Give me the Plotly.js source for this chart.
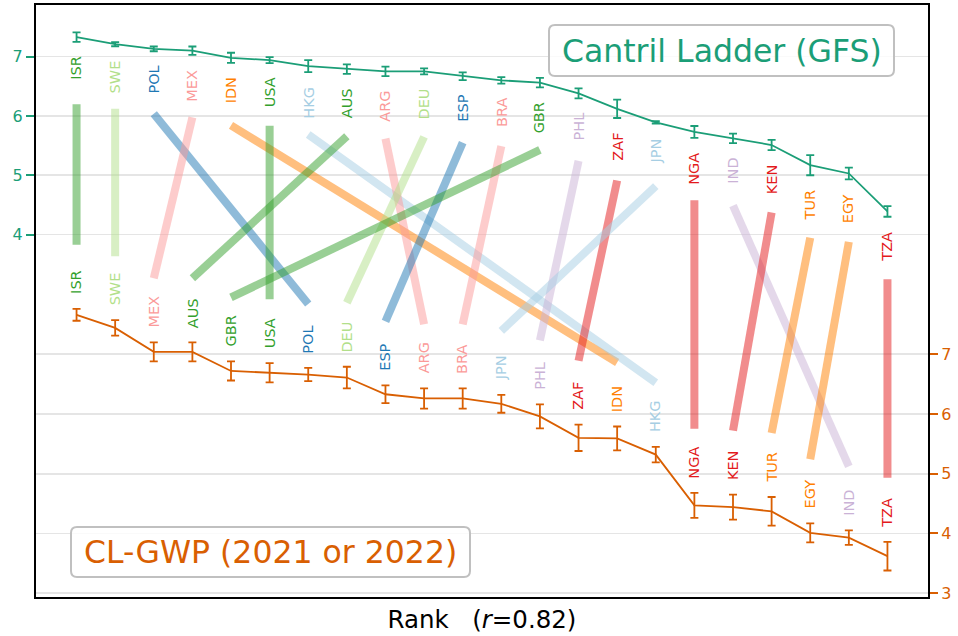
<!DOCTYPE html>
<html>
<head>
<meta charset="utf-8">
<script src="https://cdn.plot.ly/plotly-3.0.1.min.js"></script>
<style>html,body{margin:0;padding:0;background:#fff;}#chart{width:958px;height:636px;}</style>
</head>
<body>
<div id="chart"></div>
<script>
// ---- data ----
const gfsCountries = ['ISR','SWE','POL','MEX','IDN','USA','HKG','AUS','ARG','DEU','ESP','BRA','GBR','PHL','ZAF','JPN','NGA','IND','KEN','TUR','EGY','TZA'];
const gfsMean = [7.33,7.21,7.13,7.10,6.98,6.94,6.84,6.79,6.75,6.75,6.67,6.60,6.56,6.38,6.12,5.89,5.73,5.62,5.51,5.17,5.03,4.39];
const gfsErr  = [0.08,0.035,0.04,0.07,0.085,0.05,0.10,0.08,0.08,0.05,0.065,0.055,0.08,0.085,0.155,0.02,0.10,0.08,0.085,0.17,0.10,0.09];

const gwpCountries = ['ISR','SWE','MEX','AUS','GBR','USA','POL','DEU','ESP','ARG','BRA','JPN','PHL','ZAF','IDN','HKG','NGA','KEN','TUR','EGY','IND','TZA'];
const gwpMean = [7.66,7.44,7.04,7.04,6.72,6.69,6.66,6.61,6.33,6.26,6.26,6.17,5.96,5.60,5.59,5.32,4.47,4.44,4.37,4.01,3.93,3.62];
const gwpErr  = [0.10,0.13,0.16,0.16,0.16,0.16,0.11,0.18,0.15,0.17,0.17,0.15,0.20,0.22,0.20,0.13,0.21,0.21,0.24,0.16,0.12,0.24];

const gfsTicks = [4,5,6,7];
const gwpTicks = [3,4,5,6,7];
const xTitle = 'Rank\u00a0\u00a0\u00a0(<i>r</i>=0.82)';
const gfsLabel = 'Cantril Ladder (GFS)';
const gwpLabel = 'CL-GWP (2021 or 2022)';

// ---- styles ----
const countryColor = {
  ISR:'#33a02c', SWE:'#b2df8a', POL:'#1f78b4', MEX:'#fb9a99', IDN:'#ff7f00', USA:'#33a02c',
  HKG:'#a6cee3', AUS:'#33a02c', ARG:'#fb9a99', DEU:'#b2df8a', ESP:'#1f78b4', BRA:'#fb9a99',
  GBR:'#33a02c', PHL:'#cab2d6', ZAF:'#e31a1c', JPN:'#a6cee3', NGA:'#e31a1c', IND:'#cab2d6',
  KEN:'#e31a1c', TUR:'#ff7f00', EGY:'#ff7f00', TZA:'#e31a1c'
};
const GFS_COL = '#1b9e77', GWP_COL = '#d95f02';
const FONT = 'DejaVu Sans, Verdana, sans-serif';

const W = 958, H = 636;
const M = {l:36, r:30, t:5, b:39};
const PW = W - M.l - M.r, PH = H - M.t - M.b;
const R1 = [-2.11, 7.87];
const R2 = [2.936, 12.846];
const XR = [-0.05, 23.05];
const px1 = PH / (R1[1]-R1[0]);
const px2 = PH / (R2[1]-R2[0]);
function y1ToY2(v){ return R2[0] + (v - R1[0]) / (R1[1]-R1[0]) * (R2[1]-R2[0]); }
function hexA(h,a){ const n=parseInt(h.slice(1),16); return `rgba(${n>>16},${(n>>8)&255},${n&255},${a})`; }

const LINE_GAP = 62.5, LINE_GAP2 = 64, LABEL_GAP = 13.5;

const traces = [];
// connecting lines
gfsCountries.forEach((c, i) => {
  const j = gwpCountries.indexOf(c);
  const yTop = y1ToY2(gfsMean[i] - gfsErr[i] - LINE_GAP / px1);
  const yBot = gwpMean[j] + gwpErr[j] + LINE_GAP2 / px2;
  traces.push({
    x: [i + 1, j + 1], y: [yTop, yBot], yaxis: 'y2', mode: 'lines',
    line: {color: hexA(countryColor[c], 0.5), width: 8}, hoverinfo: 'skip', showlegend: false
  });
});
const rankX = gfsCountries.map((c, i) => i + 1);
traces.push({
  x: rankX, y: gfsMean, mode: 'lines', yaxis: 'y',
  line: {color: GFS_COL, width: 1.8},
  error_y: {type: 'data', array: gfsErr, visible: true, color: GFS_COL, thickness: 1.8, width: 4},
  showlegend: false
});
traces.push({
  x: gwpCountries.map((c, i) => i + 1), y: gwpMean, mode: 'lines', yaxis: 'y2',
  line: {color: GWP_COL, width: 1.8},
  error_y: {type: 'data', array: gwpErr, visible: true, color: GWP_COL, thickness: 1.8, width: 4},
  showlegend: false
});

const annotations = [];
gfsCountries.forEach((c, i) => {
  annotations.push({
    x: i + 1, y: gfsMean[i] - gfsErr[i], xref: 'x', yref: 'y', text: c, showarrow: false,
    textangle: -90, xanchor: 'center', yanchor: 'top', yshift: -LABEL_GAP,
    font: {family: FONT, size: 14.5, color: countryColor[c]}, borderpad: 0
  });
});
gwpCountries.forEach((c, j) => {
  annotations.push({
    x: j + 1, y: gwpMean[j] + gwpErr[j], xref: 'x', yref: 'y2', text: c, showarrow: false,
    textangle: -90, xanchor: 'center', yanchor: 'bottom', yshift: LABEL_GAP,
    font: {family: FONT, size: 14.5, color: countryColor[c]}, borderpad: 0
  });
});
// pixel -> paper helpers
const pxX = p => (p - M.l) / PW;
const pxY = p => (H - M.b - p) / PH;
annotations.push({xref:'paper', yref:'paper', x: pxX(721.5), y: pxY(50.5), text: gfsLabel, showarrow:false,
  xanchor:'center', yanchor:'middle', font:{family:FONT, size:31.5, color:GFS_COL}});
annotations.push({xref:'paper', yref:'paper', x: pxX(270.5), y: pxY(552), text: gwpLabel, showarrow:false,
  xanchor:'center', yanchor:'middle', font:{family:FONT, size:31.5, color:GWP_COL}});

function roundRect(x0, y0, x1, y1, r) {
  const X = p => pxX(p).toFixed(5), Y = p => pxY(p).toFixed(5);
  return `M${X(x0+r)},${Y(y0)} L${X(x1-r)},${Y(y0)} Q${X(x1)},${Y(y0)} ${X(x1)},${Y(y0+r)} ` +
         `L${X(x1)},${Y(y1-r)} Q${X(x1)},${Y(y1)} ${X(x1-r)},${Y(y1)} L${X(x0+r)},${Y(y1)} ` +
         `Q${X(x0)},${Y(y1)} ${X(x0)},${Y(y1-r)} L${X(x0)},${Y(y0+r)} Q${X(x0)},${Y(y0)} ${X(x0+r)},${Y(y0)} Z`;
}
const shapes = [
  {type:'path', xref:'paper', yref:'paper', path: roundRect(549, 25, 894, 76, 6),
   line:{color:'#c0c0c0', width:2}, fillcolor:'rgba(255,255,255,0.8)', layer:'above'},
  {type:'path', xref:'paper', yref:'paper', path: roundRect(71, 527, 470, 577, 6),
   line:{color:'#c0c0c0', width:2}, fillcolor:'rgba(255,255,255,0.8)', layer:'above'}
];

const layout = {
  width: W, height: H, margin: M, paper_bgcolor: '#fff', plot_bgcolor: '#fff',
  font: {family: FONT},
  showlegend: false,
  xaxis: {range: XR, showticklabels: false, ticks: '', showgrid: false, zeroline: false,
    showline: true, mirror: true, linecolor: '#000', linewidth: 2,
    title: {text: xTitle, font: {family: FONT, size: 24.5, color: '#000'}, standoff: 13}},
  yaxis: {range: R1, tickvals: gfsTicks, ticktext: gfsTicks.map(String), ticks: 'outside', ticklen: 8, tickwidth: 2,
    tickcolor: GFS_COL, tickfont: {family: FONT, size: 16, color: GFS_COL},
    showgrid: true, gridcolor: '#e5e5e5', gridwidth: 1.6, zeroline: false,
    showline: true, linecolor: '#000', linewidth: 2},
  yaxis2: {range: R2, overlaying: 'y', side: 'right', tickvals: gwpTicks, ticktext: gwpTicks.map(String),
    ticks: 'outside', ticklen: 8, tickwidth: 2, tickcolor: GWP_COL, tickfont: {family: FONT, size: 16, color: GWP_COL},
    showgrid: true, gridcolor: '#e5e5e5', gridwidth: 1.6, zeroline: false,
    showline: true, linecolor: '#000', linewidth: 2},
  annotations: annotations,
  shapes: shapes
};
Plotly.newPlot('chart', traces, layout, {staticPlot: true, displayModeBar: false});
</script>
</body>
</html>
